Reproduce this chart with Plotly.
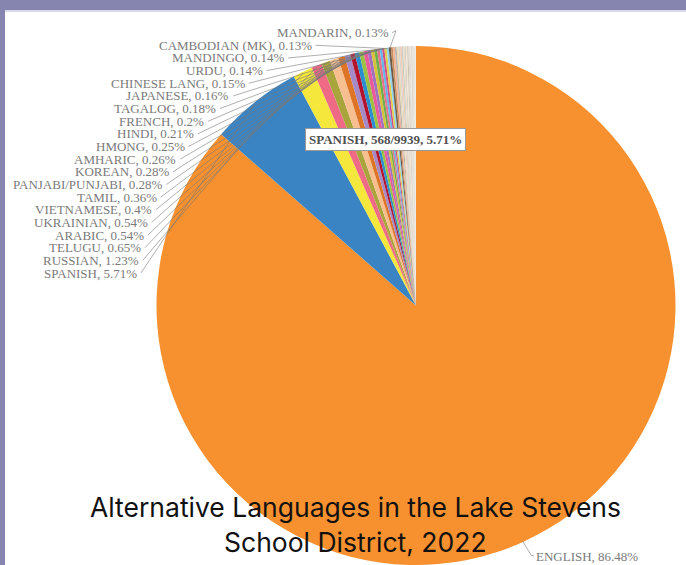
import math
import plotly.graph_objects as go

# Home-language counts, Lake Stevens School District 2022 (students, total 9939)
languages = [
    "ENGLISH", "SPANISH", "RUSSIAN", "TELUGU", "ARABIC", "UKRAINIAN", "VIETNAMESE",
    "TAMIL", "PANJABI/PUNJABI", "KOREAN", "AMHARIC", "HMONG", "HINDI", "FRENCH",
    "TAGALOG", "JAPANESE", "CHINESE LANG", "URDU", "MANDINGO", "CAMBODIAN (MK)",
    "MANDARIN",
]
counts = [
    8595, 568, 122, 65, 54, 54, 40,
    36, 28, 28, 26, 25, 21, 20,
    18, 16, 15, 14, 14, 13,
    13,
]
# Smaller languages, drawn as slices without outside labels
other_names = ["OTHER %d" % (i + 1) for i in range(22)]
other_counts = [12, 12, 11, 11, 10, 10, 9, 9, 8, 8, 7, 7, 6, 6, 5, 5, 4, 4, 3, 3, 2, 2]

slice_colors = [
    "#f7912f", "#3a84c4", "#f6e73c", "#ef6b85", "#a9a43c", "#f7bf8f", "#de7426",
    "#a48bc8", "#b5122c", "#2a8fd0", "#9cc142", "#e85a9a", "#a070c0", "#d8c13a",
    "#6cae4a", "#e8708c", "#5fb8e8", "#d14f8a", "#e3cf4a", "#8fd3f2",
    "#6b5a48",
    "#c98c5a", "#f2b49a", "#b9b4ac", "#e8d9b5", "#d9d6ce", "#f0c9b4", "#c7cfc6",
    "#ecdcc2", "#d3d0c8", "#f3e3d0", "#c9c2b6", "#e2d7c8", "#d9d9d9", "#eee6d8",
    "#cfc8bd", "#e6dccd", "#dad4ca", "#f1ebe1", "#d4d4cf", "#e9e1d3", "#dedbd4",
    "#efe9df",
]

title_lines = ["Alternative Languages in the Lake Stevens", "School District, 2022"]

all_names = languages + other_names
all_counts = counts + other_counts
total = sum(all_counts)

W, H = 686, 565
CX, CY, R = 416.0, 305.5, 259.5


def px(x, y):
    return x / W, 1 - y / H


def pct_text(v):
    return "%g" % round(100.0 * v / total, 2)


# angle (clockwise from 12 o'clock) at the middle of each slice
mid_angles = []
acc = 0
for v in all_counts:
    mid_angles.append(2 * math.pi * (acc + v / 2) / total)
    acc += v


def rim(theta, r=R):
    return CX + r * math.sin(theta), CY - r * math.cos(theta)


fig = go.Figure(go.Pie(
    labels=all_names,
    values=all_counts,
    sort=False,
    direction="clockwise",
    rotation=0,
    textinfo="none",
    marker=dict(colors=slice_colors, line=dict(width=0)),
    domain=dict(x=[(CX - R) / W, (CX + R) / W], y=[1 - (CY + R) / H, 1 - (CY - R) / H]),
    showlegend=False,
    hoverinfo="label+value+percent",
))

shapes = []
annotations = []
label_font = dict(family="Liberation Serif", size=13, color="#7a7a7a")
line_style = dict(color="rgba(120,120,120,0.75)", width=0.8)

# labelled languages stacked up the left side, right ends on a ring round the pie
row_y0, row_step, ring = 273.0, 12.65, 280.0
for i in range(1, len(languages)):
    ly = row_y0 - (i - 1) * row_step
    tx, ty = rim(mid_angles[i], R - 1)
    if i == len(languages) - 1:
        lx = 390.0
        path = "M %f,%f L %f,%f L %f,%f" % (
            *px(lx + 2, ly), *px(lx + 6, ly - 2), *px(tx, ty))
    else:
        lx = CX - math.sqrt(ring ** 2 - (ly - CY) ** 2)
        path = "M %f,%f L %f,%f" % (*px(lx + 3, ly), *px(tx, ty))
    shapes.append(dict(type="path", path=path, xref="paper", yref="paper",
                       line=line_style, layer="above"))
    x, y = px(lx, ly)
    annotations.append(dict(
        x=x, y=y, xref="paper", yref="paper", xanchor="right", yanchor="middle",
        text="%s, %s%%" % (languages[i], pct_text(counts[i])),
        showarrow=False, font=label_font, borderpad=0,
    ))

# label for the largest slice, bottom right
ex, ey = 535.0, 556.0
tx, ty = rim(mid_angles[0], R - 1)
shapes.append(dict(type="path", xref="paper", yref="paper", layer="above", line=line_style,
                   path="M %f,%f L %f,%f L %f,%f" % (*px(tx, ty), *px(ex - 4, ey - 1), *px(ex - 1, ey))))
x, y = px(ex, ey)
annotations.append(dict(
    x=x, y=y, xref="paper", yref="paper", xanchor="left", yanchor="middle",
    text="%s, %s%%" % (languages[0], pct_text(counts[0])),
    showarrow=False, font=label_font, borderpad=0,
))

# hover-style box for the second slice
x, y = px(305, 139)
annotations.append(dict(
    x=x, y=y, xref="paper", yref="paper", xanchor="left", yanchor="middle",
    text="<b>%s, %d/%d, %.2f%%</b>" % (languages[1], counts[1], total, 100.0 * counts[1] / total),
    showarrow=False, font=dict(family="Liberation Serif", size=13, color="#505050"),
    bgcolor="white", bordercolor="#9a9a9a", borderwidth=1, borderpad=3,
))

# two-line caption over the pie
for line, cy in zip(title_lines, (506.5, 541.5)):
    x, y = px(355, cy)
    annotations.append(dict(
        x=x, y=y, xref="paper", yref="paper", xanchor="center", yanchor="middle",
        text=line, showarrow=False,
        font=dict(family="Inter", size=26.5, color="#111111"),
    ))

# slide frame: band across the top and a strip down the left edge
frame = "#8585b0"
shapes += [
    dict(type="rect", xref="paper", yref="paper", x0=0, x1=1, y0=1 - 10 / H, y1=1,
         fillcolor=frame, line=dict(width=0), layer="above"),
    dict(type="rect", xref="paper", yref="paper", x0=0, x1=1, y0=1 - 12 / H, y1=1 - 10 / H,
         fillcolor="#d9d9ec", line=dict(width=0), layer="above"),
    dict(type="rect", xref="paper", yref="paper", x0=0, x1=5 / W, y0=0, y1=1,
         fillcolor=frame, line=dict(width=0), layer="above"),
]

fig.update_layout(
    width=W, height=H,
    margin=dict(l=0, r=0, t=0, b=0),
    paper_bgcolor="white",
    plot_bgcolor="white",
    shapes=shapes,
    annotations=annotations,
)

fig.write_html("out.html")
